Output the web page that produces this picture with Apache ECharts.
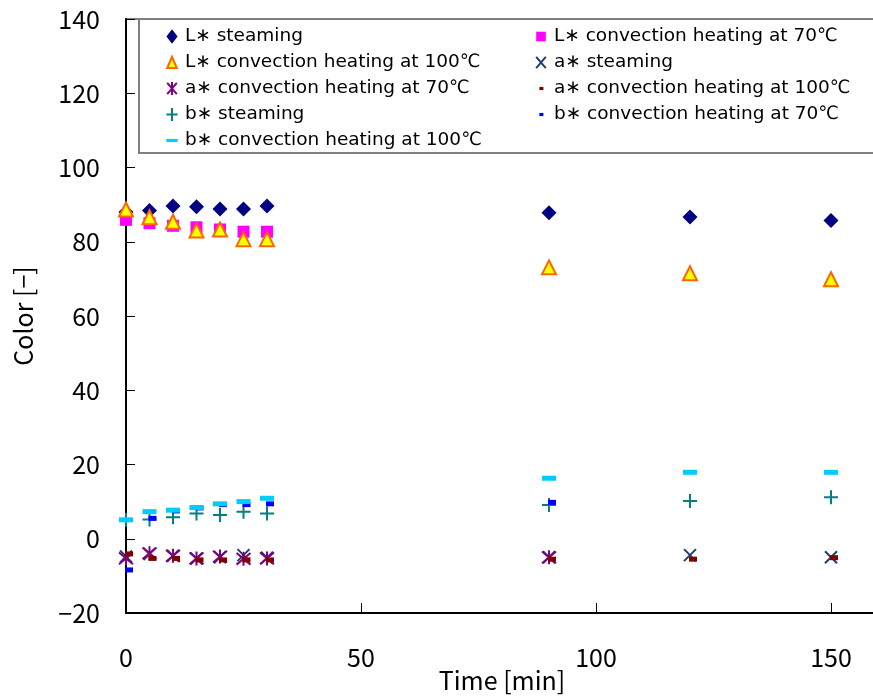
<!DOCTYPE html>
<html><head><meta charset="utf-8">
<script src="https://cdn.jsdelivr.net/npm/echarts@6/dist/echarts.min.js"></script>
<style>html,body{margin:0;padding:0;background:#fff}#c{width:873px;height:699px}</style>
</head><body><div id="c"></div>
<script>
const times = [0, 5, 10, 15, 20, 25, 30, 90, 120, 150];
const L_steam = [88.0, 88.4, 89.6, 89.4, 88.8, 88.8, 89.6, 87.8, 86.7, 85.7];
const L_70 = [85.9, 85.0, 84.3, 83.9, 83.3, 82.7, 82.7, null, null, null];
const L_100 = [88.7, 86.6, 85.4, 83.0, 83.3, 80.7, 80.7, 73.1, 71.5, 69.9];
const a_steam = [-4.8, -4.1, -4.6, -5.3, -5.0, -4.4, -5.1, -5.0, -4.4, -5.0];
const a_70 = [-5.3, -3.9, -4.6, -5.3, -4.8, -5.4, -5.3, -5.0, null, null];
const a_100 = [-4.1, -5.3, -5.3, -5.7, -5.7, -5.7, -5.7, -5.5, -5.5, -5.1];
const b_steam = [5.1, 5.2, 5.8, 6.8, 6.4, 7.3, 6.8, 9.1, 10.2, 11.2];
const b_70 = [-8.4, 5.5, 7.5, 8.3, 9.2, 9.2, 9.4, 9.8, null, null];
const b_100 = [5.1, 7.3, 7.7, 8.4, 9.4, 10.0, 10.9, 16.3, 17.9, 17.9];

const names = [
  'L\u2217 steaming', 'L\u2217 convection heating at 70\u2103',
  'L\u2217 convection heating at 100\u2103', 'a\u2217 steaming',
  'a\u2217 convection heating at 70\u2103', 'a\u2217 convection heating at 100\u2103',
  'b\u2217 steaming', 'b\u2217 convection heating at 70\u2103',
  'b\u2217 convection heating at 100\u2103'
];
const FONT = 'Noto Sans CJK JP';
const LFONT = 'DejaVu Sans';
function pairs(v) { const out = []; v.forEach((y, i) => { if (y !== null) out.push([times[i], y]); }); return out; }

const PAD = 'path://M0,0M20,20';
const defs = [
  { vals: L_steam, symbol: 'diamond', size: 15, style: { color: '#000080' }, icon: PAD + 'M10,1L17,10L10,19L3,10Z' },
  { vals: L_70, symbol: 'rect', size: 12, style: { color: '#FF00FF' }, icon: PAD + 'M4,4L16,4L16,16L4,16Z' },
  { vals: L_100, symbol: 'triangle', size: 14, style: { color: '#FFFF00', borderColor: '#FF6600', borderWidth: 2 }, icon: PAD + 'M10,3L16,17L4,17Z' },
  { vals: a_steam, symbol: 'path://M0,0L10,10M10,0L0,10', size: 12, style: { color: 'rgba(0,0,0,0)', borderColor: '#1F3F6F', borderWidth: 2 }, icon: PAD + 'M4,3L16,17M16,3L4,17' },
  { vals: a_70, symbol: 'path://M0,0L10,10M10,0L0,10M5,-1L5,11', size: 14, style: { color: 'rgba(0,0,0,0)', borderColor: '#800080', borderWidth: 2 }, icon: PAD + 'M4,3L16,17M16,3L4,17M10,2L10,18' },
  { vals: a_100, symbol: 'rect', size: [8, 5], offset: [3, 0], style: { color: '#800000' }, icon: PAD + 'M8,8L13,8L13,12L8,12Z' },
  { vals: b_steam, symbol: 'path://M5,0L5,10M0,5L10,5', size: 14, style: { color: 'rgba(0,0,0,0)', borderColor: '#008080', borderWidth: 2 }, icon: PAD + 'M10,2L10,18M3,10L17,10' },
  { vals: b_70, symbol: 'rect', size: [8, 5], offset: [3, 0], style: { color: '#0000FF' }, icon: PAD + 'M8,8L13,8L13,12L8,12Z' },
  { vals: b_100, symbol: 'rect', size: [14, 5], style: { color: '#00CCFF' }, icon: PAD + 'M3,8L17,8L17,12L3,12Z' }
];

const series = defs.map((d, i) => ({
  name: names[i], type: 'scatter', data: pairs(d.vals),
  symbol: d.symbol, symbolSize: d.size, symbolOffset: d.offset || [0, 0],
  itemStyle: Object.assign({ opacity: 1 }, d.style), emphasis: { disabled: true }
}));

const leftIdx = [0, 2, 4, 6, 8], rightIdx = [1, 3, 5, 7];
function legendFor(idx, left) {
  return {
    orient: 'vertical', left: left, top: 27, padding: 0, itemGap: 7,
    itemWidth: 16, itemHeight: 16, selectedMode: false, z: 10,
    textStyle: { fontFamily: LFONT, fontSize: 18.5, color: '#000' },
    data: idx.map(i => ({ name: names[i], icon: defs[i].icon }))
  };
}

const chart = echarts.init(document.getElementById('c'), null, { renderer: 'canvas' });
chart.setOption({
  animation: false,
  backgroundColor: '#fff',
  grid: { left: 126, top: 19, right: -5, bottom: 86, show: true, borderColor: '#808080', borderWidth: 2,
    containLabel: false, outerBoundsMode: 'none' },
  xAxis: {
    type: 'value', min: 0, max: 160, interval: 50,
    name: 'Time [min]', nameLocation: 'middle', nameGap: 55, nameMoveOverlap: false,
    nameTextStyle: { fontFamily: FONT, fontSize: 25, color: '#000' },
    axisLine: { onZero: false, lineStyle: { color: '#000', width: 2 } },
    axisTick: { inside: true, length: 10, lineStyle: { color: '#000', width: 1 } },
    axisLabel: { fontFamily: FONT, fontSize: 25, color: '#000', margin: 32, showMaxLabel: false },
    splitLine: { show: false }
  },
  yAxis: {
    type: 'value', min: -20, max: 140, interval: 20,
    name: 'Color [\u2212]', nameLocation: 'middle', nameGap: 90, nameMoveOverlap: false,
    nameTextStyle: { fontFamily: FONT, fontSize: 25, color: '#000' },
    axisLine: { onZero: false, lineStyle: { color: '#000', width: 2 } },
    axisTick: { inside: true, length: 9, lineStyle: { color: '#000', width: 1 } },
    axisLabel: { fontFamily: FONT, fontSize: 25, color: '#000', margin: 26,
      formatter: v => String(v).replace('-', '\u2212') },
    splitLine: { show: false }
  },
  graphic: [{
    type: 'rect', z: 5, shape: { x: 139, y: 19, width: 760, height: 134 },
    style: { fill: '#fff', stroke: '#808080', lineWidth: 2 }
  }],
  legend: [legendFor(leftIdx, 163), legendFor(rightIdx, 532)],
  series: series
});
</script></body></html>
